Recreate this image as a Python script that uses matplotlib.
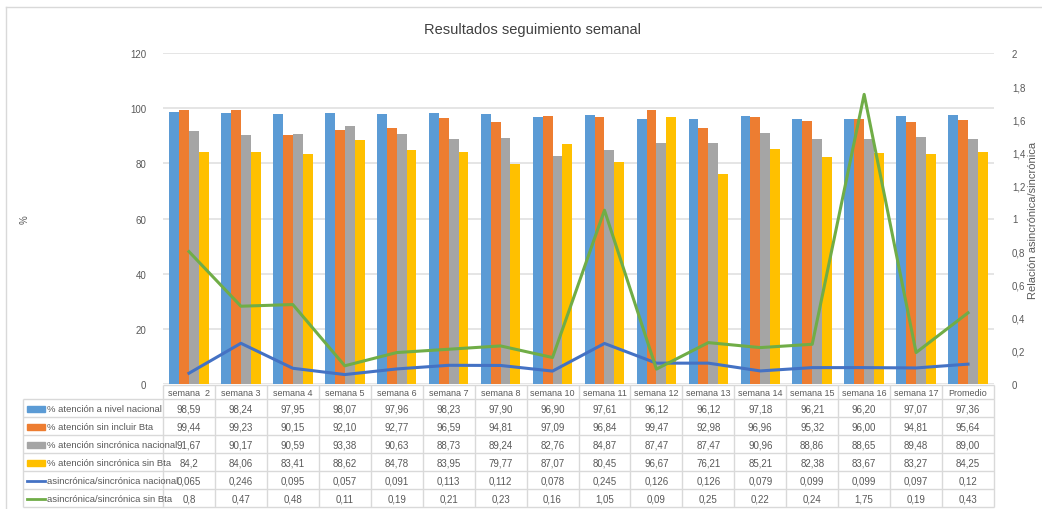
import matplotlib.pyplot as plt
import numpy as np
from matplotlib.patches import Rectangle
from matplotlib.lines import Line2D

plt.rcParams['font.family'] = ['Liberation Sans', 'DejaVu Sans']

# ---- data (as shown in the data table) ----
categories = ['semana  2', 'semana 3', 'semana 4', 'semana 5', 'semana 6', 'semana 7',
              'semana 8', 'semana 10', 'semana 11', 'semana 12', 'semana 13', 'semana 14',
              'semana 15', 'semana 16', 'semana 17', 'Promedio']
nacional = ['98,59', '98,24', '97,95', '98,07', '97,96', '98,23', '97,90', '96,90',
            '97,61', '96,12', '96,12', '97,18', '96,21', '96,20', '97,07', '97,36']
sin_bta = ['99,44', '99,23', '90,15', '92,10', '92,77', '96,59', '94,81', '97,09',
           '96,84', '99,47', '92,98', '96,96', '95,32', '96,00', '94,81', '95,64']
sincr_nacional = ['91,67', '90,17', '90,59', '93,38', '90,63', '88,73', '89,24', '82,76',
                  '84,87', '87,47', '87,47', '90,96', '88,86', '88,65', '89,48', '89,00']
sincr_sin_bta = ['84,2', '84,06', '83,41', '88,62', '84,78', '83,95', '79,77', '87,07',
                 '80,45', '96,67', '76,21', '85,21', '82,38', '83,67', '83,27', '84,25']
ratio_nacional = ['0,065', '0,246', '0,095', '0,057', '0,091', '0,113', '0,112', '0,078',
                  '0,245', '0,126', '0,126', '0,079', '0,099', '0,099', '0,097', '0,12']
ratio_sin_bta = ['0,8', '0,47', '0,48', '0,11', '0,19', '0,21', '0,23', '0,16',
                 '1,05', '0,09', '0,25', '0,22', '0,24', '1,75', '0,19', '0,43']

bar_names = ['% atención a nivel nacional', '% atención sin incluir Bta',
             '% atención sincrónica nacional', '% atención sincrónica sin Bta']
line_names = ['asincrónica/sincrónica nacional', 'asincrónica/sincrónica sin Bta']


def num(lst):
    return np.array([float(s.replace(',', '.')) for s in lst])


bar_series = [nacional, sin_bta, sincr_nacional, sincr_sin_bta]
line_series = [ratio_nacional, ratio_sin_bta]
bar_colors = ['#5B9BD5', '#ED7D31', '#A5A5A5', '#FFC000']
line_colors = ['#4472C4', '#70AD47']
txt = '#595959'

W, H = 1042, 510
fig = plt.figure(figsize=(W / 100, H / 100), dpi=100)

# plot area in pixels
L, R, T, B = 163, 994, 54, 385
ax = fig.add_axes([L / W, (H - B) / H, (R - L) / W, (B - T) / H])
n = len(categories)
x = np.arange(n)
bw = 0.19
for i, s in enumerate(bar_series):
    ax.bar(x + (i - 1.5) * bw, num(s), bw, color=bar_colors[i], zorder=2)
ax.set_xlim(-0.5, n - 0.5)
ax.set_ylim(0, 120)
ax.set_yticks(np.arange(0, 121, 20))
ax.yaxis.grid(True, color='#E0E0E0', lw=1.2, zorder=0)
ax.set_xticks([])
for sp in ax.spines.values():
    sp.set_visible(False)
ax.tick_params(axis='y', length=0, labelsize=7, labelcolor=txt, pad=12)

ax2 = ax.twinx()
for i, s in enumerate(line_series):
    ax2.plot(x, num(s), color=line_colors[i], lw=2.2, zorder=3)
ax2.set_ylim(0, 2)
ax2.set_yticks(np.arange(0, 2.01, 0.2))
ax2.set_yticklabels([('%g' % v).replace('.', ',') for v in np.arange(0, 2.01, 0.2).round(1)])
for sp in ax2.spines.values():
    sp.set_visible(False)
ax2.tick_params(axis='y', length=0, labelsize=7, labelcolor=txt, pad=13)

fig.text(1033 / W, 1 - 220 / H, 'Relación asincrónica/sincrónica', rotation=90,
         color=txt, fontsize=8, ha='center', va='center')
fig.text(25 / W, 1 - 220 / H, '%', rotation=90, color=txt, fontsize=7,
         ha='center', va='center')
fig.text(532 / W, 1 - 30 / H, 'Resultados seguimiento semanal', color='#404040',
         fontsize=10.5, ha='center', va='center')

# ---- data table ----
tab = fig.add_axes([0, 0, 1, 1])
tab.set_xlim(0, W)
tab.set_ylim(H, 0)
tab.axis('off')
# chart frame (only top and left edges are inside the picture)
tab.add_line(Line2D([6, W], [8, 8], color='#D9D9D9', lw=1))
tab.add_line(Line2D([6, 6], [8, H], color='#D9D9D9', lw=1))

cw = (R - L) / n
col_x = L + cw * np.arange(n + 1)
head_top, rows_top, rh = 386, 400, 18
lab_left = 23
grid_c = '#D9D9D9'
# header row
tab.hlines(head_top, L, R, color=grid_c, lw=1)
tab.vlines(col_x, head_top, rows_top, color=grid_c, lw=1)
for j, c in enumerate(categories):
    tab.text(L + cw * (j + 0.5), (head_top + rows_top) / 2 + 1, c, ha='center',
             va='center', fontsize=6.5, color=txt)
# body rows
nrows = 6
ys = rows_top + rh * np.arange(nrows + 1)
tab.hlines(ys, lab_left, R, color=grid_c, lw=1)
tab.vlines(np.r_[lab_left, col_x], rows_top, ys[-1], color=grid_c, lw=1)
all_rows = bar_series + line_series
names = bar_names + line_names
for r in range(nrows):
    yc = ys[r] + rh / 2 + 1
    if r < 4:
        tab.add_patch(Rectangle((lab_left + 4, yc - 3.5), 18, 6, color=bar_colors[r]))
    else:
        tab.add_line(Line2D([lab_left + 4, lab_left + 22], [yc - 0.5, yc - 0.5],
                            color=line_colors[r - 4], lw=2))
    tab.text(lab_left + 24, yc, names[r], ha='left', va='center', fontsize=6.8, color=txt)
    for j, v in enumerate(all_rows[r]):
        tab.text(L + cw * (j + 0.5), yc, v, ha='center', va='center', fontsize=7, color=txt)

fig.savefig('out.png', dpi=100)
